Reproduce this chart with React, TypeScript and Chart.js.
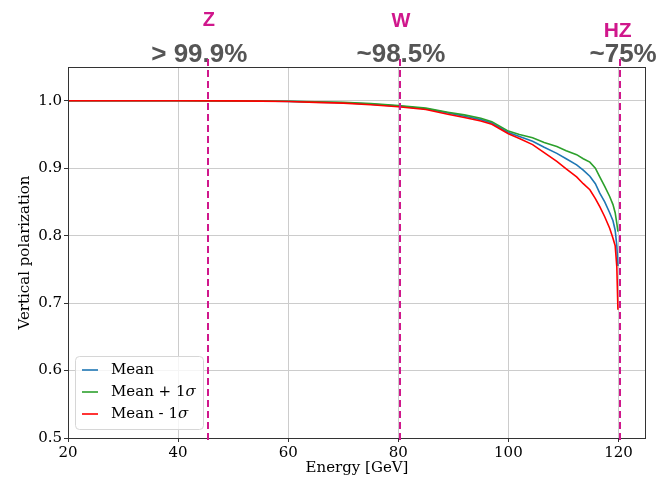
import { useEffect, useRef } from 'react';
import { Chart, registerables } from 'chart.js';

Chart.register(...registerables);

const energy = [20, 30, 40, 50, 55, 60, 65, 70, 75, 80, 85, 89, 92, 95, 97, 98.5, 100, 102, 104.4, 106.5, 108.8, 110.5, 112.4, 113.6, 114.8, 115.8, 116.6, 117.5, 118.4, 119.0, 119.4, 119.7, 119.9];
const meanPol = [1.0, 1.0, 1.0, 0.9998, 0.9995, 0.999, 0.998, 0.997, 0.995, 0.992, 0.988, 0.982, 0.977, 0.972, 0.967, 0.96, 0.953, 0.947, 0.94, 0.931, 0.922, 0.914, 0.905, 0.897, 0.888, 0.877, 0.863, 0.85, 0.834, 0.822, 0.808, 0.785, 0.755];
const plusPol = [1.0, 1.0, 1.0, 0.9998, 0.9996, 0.9992, 0.9985, 0.9975, 0.996, 0.993, 0.989, 0.983, 0.979, 0.974, 0.969, 0.962, 0.955, 0.95, 0.945, 0.938, 0.932, 0.926, 0.92, 0.914, 0.909, 0.9, 0.887, 0.873, 0.858, 0.846, 0.834, 0.818, 0.806];
const minusPol = [1.0, 1.0, 1.0, 0.9998, 0.9994, 0.9988, 0.9975, 0.9965, 0.994, 0.991, 0.987, 0.98, 0.975, 0.97, 0.965, 0.958, 0.951, 0.944, 0.935, 0.923, 0.91, 0.899, 0.887, 0.877, 0.868, 0.855, 0.843, 0.828, 0.811, 0.796, 0.785, 0.754, 0.69];

const seriesLabels = ['Mean', 'Mean + 1σ', 'Mean - 1σ'];
const seriesColors = ['#1f77b4', '#2ca02c', '#ff0000'];
const seriesOrder = [2, 1, 0];

const xTicks = [20, 40, 60, 80, 100, 120];
const yTicks = [0.5, 0.6, 0.7, 0.8, 0.9, 1.0];

const markerNames = ['Z', 'W', 'HZ'];
const markerEnergies = [45.4, 80.3, 120.3];
const markerTexts = ['> 99.9%', '~98.5%', '~75%'];

const SERIF = '"DejaVu Serif", serif';
const SANS = '"Liberation Sans", Arial, sans-serif';
const MAGENTA = '#d0178c';

const overlayPlugin = {
  id: 'overlay',
  afterDraw(chart: any) {
    const ctx: CanvasRenderingContext2D = chart.ctx;
    const area = chart.chartArea;
    const xs = chart.scales.x;
    ctx.save();

    // axes box
    ctx.strokeStyle = '#333';
    ctx.lineWidth = 1;
    ctx.strokeRect(area.left + 0.5, area.top + 0.5, area.right - area.left - 1, area.bottom - area.top);

    // legend
    const lx = area.left + 7, ly = area.top + 289, lw = 128, lh = 73;
    ctx.beginPath();
    (ctx as any).roundRect(lx + 0.5, ly + 0.5, lw, lh, 4);
    ctx.fillStyle = 'rgba(255,255,255,0.8)';
    ctx.fill();
    ctx.strokeStyle = '#d6d6d6';
    ctx.lineWidth = 1;
    ctx.stroke();
    ctx.font = `15px ${SERIF}`;
    ctx.textBaseline = 'middle';
    ctx.textAlign = 'left';
    seriesLabels.forEach((lab, i) => {
      const y = ly + 14 + i * 22;
      ctx.strokeStyle = seriesColors[i];
      ctx.lineWidth = 1.6;
      ctx.beginPath();
      ctx.moveTo(lx + 7, y);
      ctx.lineTo(lx + 23, y);
      ctx.stroke();
      ctx.fillStyle = '#000';
      const parts = lab.split('σ');
      ctx.font = `15px ${SERIF}`;
      ctx.fillText(parts[0], lx + 36, y);
      if (parts.length > 1) {
        const w = ctx.measureText(parts[0]).width;
        ctx.font = `italic 15px ${SERIF}`;
        ctx.fillText('σ', lx + 36 + w, y);
      }
    });

    // labels above
    const nameDx = [1, 1, -2.5];
    const nameBase = [26, 27, 37];
    const pctDx = [-8.5, 1, 3];
    ctx.textAlign = 'center';
    ctx.textBaseline = 'alphabetic';
    markerNames.forEach((n, i) => {
      const px = xs.getPixelForValue(markerEnergies[i]);
      ctx.fillStyle = MAGENTA;
      ctx.font = `bold ${i === 2 ? 21 : 20}px ${SANS}`;
      ctx.fillText(n, px + nameDx[i], nameBase[i]);
      ctx.fillStyle = '#555555';
      ctx.font = `bold 26px ${SANS}`;
      ctx.fillText(markerTexts[i], px + pctDx[i], 62);
    });

    // dashed lines
    ctx.strokeStyle = MAGENTA;
    ctx.lineWidth = 2;
    ctx.setLineDash([7, 4]);
    markerEnergies.forEach((e) => {
      const px = Math.round(xs.getPixelForValue(e));
      ctx.beginPath();
      ctx.moveTo(px, 59);
      ctx.lineTo(px, area.bottom + 2);
      ctx.stroke();
    });
    ctx.restore();
  },
};

export default function App() {
  const ref = useRef<HTMLCanvasElement | null>(null);
  useEffect(() => {
    if (!ref.current) return;
    const mk = (vals: number[]) => energy.map((x, i) => ({ x, y: vals[i] }));
    const chart = new Chart(ref.current, {
      type: 'line',
      data: {
        datasets: [meanPol, plusPol, minusPol].map((vals, i) => ({
          label: seriesLabels[i],
          data: mk(vals),
          borderColor: seriesColors[i],
          backgroundColor: seriesColors[i],
          borderWidth: 1.6,
          pointRadius: 0,
          tension: 0,
          fill: false,
          order: seriesOrder[i],
        })),
      },
      options: {
        animation: false,
        responsive: false,
        devicePixelRatio: 1,
        layout: { padding: { top: 67, right: 13, left: 0, bottom: 0 } },
        plugins: { legend: { display: false }, tooltip: { enabled: false } },
        scales: {
          x: {
            type: 'linear',
            min: 20,
            max: 125,
            afterBuildTicks: (s: any) => { s.ticks = xTicks.map((v) => ({ value: v })); },
            afterFit: (s: any) => { s.height = 40; },
            ticks: { font: { family: SERIF, size: 15 }, color: '#000', padding: 2, maxRotation: 0, autoSkip: false, callback: (v: any) => String(v) },
            grid: { color: '#cccccc', lineWidth: 1, tickLength: 4, tickColor: '#333' },
            border: { display: false },
            title: { display: true, text: 'Energy [GeV]', font: { family: SERIF, size: 15 }, color: '#000', padding: { top: 0, bottom: 1 } },
          },
          y: {
            type: 'linear',
            min: 0.5,
            max: 1.05,
            afterBuildTicks: (s: any) => { s.ticks = yTicks.map((v) => ({ value: v })); },
            afterFit: (s: any) => { s.width = 68; },
            ticks: { font: { family: SERIF, size: 15 }, color: '#000', padding: 2, autoSkip: false, callback: (v: any) => Number(v).toFixed(1) },
            grid: { color: '#cccccc', lineWidth: 1, tickLength: 4, tickColor: '#333' },
            border: { display: false },
            title: { display: true, text: 'Vertical polarization', font: { family: SERIF, size: 15 }, color: '#000', padding: { top: 16, bottom: 0 } },
          },
        },
      },
      plugins: [overlayPlugin],
    } as any);
    return () => chart.destroy();
  }, []);
  return (
    <div style={{ position: 'absolute', left: 0, top: 0, width: 659, height: 478, background: '#fff' }}>
      <canvas ref={ref} width={659} height={478} style={{ width: 659, height: 478 }} />
    </div>
  );
}
